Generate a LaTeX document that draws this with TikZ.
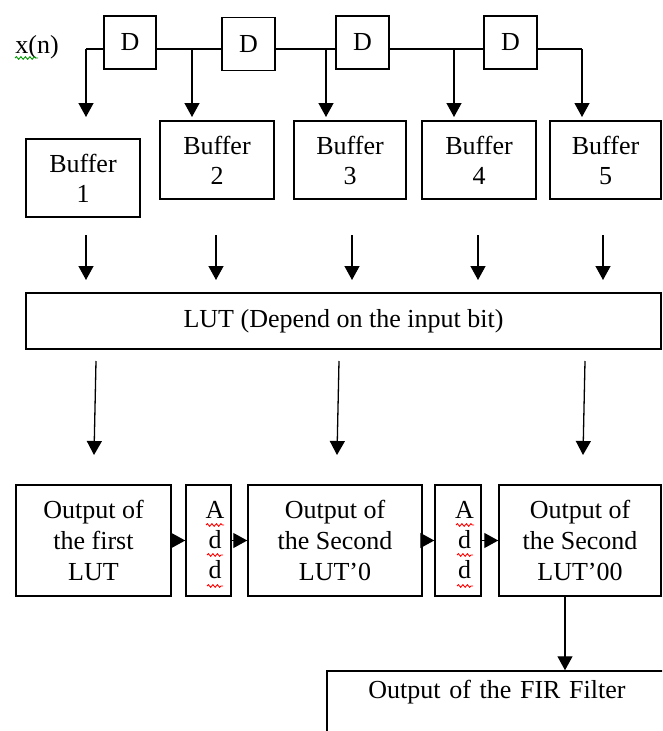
\documentclass[tikz,border=0pt]{standalone}
\usepackage{fontspec}
\setmainfont{Liberation Serif}
\usetikzlibrary{arrows.meta,decorations.pathmorphing}
\begin{document}
\begin{tikzpicture}[x=1pt,y=-1pt,
  box/.style={draw, line width=1.5pt, inner sep=0pt, align=center, font=\fontsize{26}{30}\selectfont},
  obox/.style={box, minimum height=111pt, font=\fontsize{26}{31}\selectfont},
  arr/.style={line width=1.3pt, -{Triangle[width=15pt,length=14pt]}},
  wire/.style={line width=1.3pt},
  squig/.style={decorate, decoration={snake, amplitude=1.3pt, segment length=4.5pt}, line width=0.9pt}]
\clip (0,0) rectangle (662,731);
% input and delays
\node[font=\fontsize{26}{30}\selectfont, anchor=base, inner sep=0pt] (xn) at (37,53) {x(n)};
\draw[squig, green!60!black] (15,58) -- (38,58);
\node[box, minimum width=52pt, minimum height=53pt] (D1) at (130,42.5) {D};
\node[box, minimum width=53pt, minimum height=53pt] (D2) at (248.5,44) {D};
\node[box, minimum width=53pt, minimum height=53pt] (D3) at (362.5,42.5) {D};
\node[box, minimum width=53pt, minimum height=53pt] (D4) at (510.5,42.5) {D};
\coordinate (w0) at (86,49);
\coordinate (j1) at (192,49);
\coordinate (j2) at (326,49);
\coordinate (j3) at (454,49);
\coordinate (j4) at (582,49);
\coordinate (t1) at (86,117);
\coordinate (t2) at (192,117);
\coordinate (t3) at (326,117);
\coordinate (t4) at (454,117);
\coordinate (t5) at (582,117);
\draw[wire] (D1.west |- w0) -- (w0);
\draw[wire] (D1.east |- j1) -- (D2.west |- j1);
\draw[wire] (D2.east |- j2) -- (D3.west |- j2);
\draw[wire] (D3.east |- j3) -- (D4.west |- j3);
\draw[wire] (D4.east |- j4) -- (j4);
\draw[arr] (w0) -- (t1);
\draw[arr] (j1) -- (t2);
\draw[arr] (j2) -- (t3);
\draw[arr] (j3) -- (t4);
\draw[arr] (j4) -- (t5);
% buffers
\node[box, minimum width=114pt, minimum height=78pt] (B1) at (83,178) {Buffer\\1};
\node[box, minimum width=114pt, minimum height=78pt] (B2) at (217,160) {Buffer\\2};
\node[box, minimum width=112pt, minimum height=78pt] (B3) at (350,160) {Buffer\\3};
\node[box, minimum width=114pt, minimum height=78pt] (B4) at (479,160) {Buffer\\4};
\node[box, minimum width=111pt, minimum height=78pt] (B5) at (605.5,160) {Buffer\\5};
% LUT
\node[box, minimum width=635pt, minimum height=56pt] (LUT) at (343.5,321) {LUT (Depend on the input bit)};
\foreach \i/\x in {1/86,2/216,3/352,4/478,5/603}{
  \coordinate (bs\i) at (\x,235);
  \coordinate (be\i) at (\x,280);
  \draw[arr] (bs\i) -- (be\i);
}
\coordinate (ls1) at (96,361);  \coordinate (le1) at (94,455);
\coordinate (ls2) at (339,361); \coordinate (le2) at (337,455);
\coordinate (ls3) at (585,361); \coordinate (le3) at (583,455);
\draw[arr] (ls1) -- (le1);
\draw[arr] (ls2) -- (le2);
\draw[arr] (ls3) -- (le3);
% outputs
\node[obox, minimum width=155pt] (O1) at (93.5,540.5) {Output of\\the first\\LUT};
\node[box, minimum width=45pt, minimum height=111pt] (A1) at (208.5,540.5) {\hspace*{13pt}A\\\hspace*{13pt}d\\\hspace*{13pt}d};
\node[obox, minimum width=174pt] (O2) at (335,540.5) {Output of\\the Second\\LUT’0};
\node[box, minimum width=46pt, minimum height=111pt] (A2) at (458,540.5) {\hspace*{13pt}A\\\hspace*{13pt}d\\\hspace*{13pt}d};
\node[obox, minimum width=162pt] (O3) at (580,540.5) {Output of\\the Second\\LUT’00};
\draw[arr] (O1.east) -- (A1.west);
\draw[arr] (A1.east) -- (O2.west);
\draw[arr] (O2.east) -- (A2.west);
\draw[arr] (A2.east) -- (O3.west);
% squiggles under Add letters
\foreach \cx in {215,465}{
  \draw[squig, red] (\cx-9,525) -- (\cx+9,525);
  \draw[squig, red] (\cx-8,555) -- (\cx+8,555);
  \draw[squig, red] (\cx-8,586) -- (\cx+8,586);
}
% FIR output
\node[box, text width=340pt, text height=27pt, text depth=42pt] (FIR) at (497,705.5) {Output of the FIR Filter};
\coordinate (fx) at (565,600);
\draw[arr] (O3.south -| fx) -- (FIR.north -| fx);
\end{tikzpicture}
\end{document}
